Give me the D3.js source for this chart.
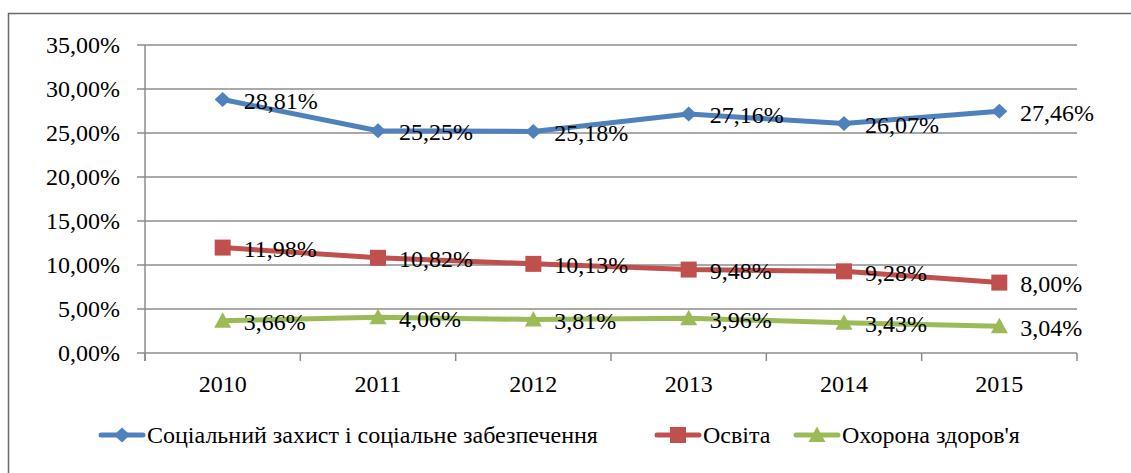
<!DOCTYPE html>
<html>
<head>
<meta charset="utf-8">
<script src="https://cdn.jsdelivr.net/npm/d3@7"></script>
<style>
  body { margin: 0; background: #fff; }
  text { font-family: "Liberation Serif", "Times New Roman", serif; fill: #000; }
</style>
</head>
<body>
<div id="viz-wrapper"></div>
<script>
  // chart data
  var years = ["2010", "2011", "2012", "2013", "2014", "2015"];
  var socialProtection = [28.81, 25.25, 25.18, 27.16, 26.07, 27.46];
  var education = [11.98, 10.82, 10.13, 9.48, 9.28, 8.00];
  var health = [3.66, 4.06, 3.81, 3.96, 3.43, 3.04];
  var yTicks = [0, 5, 10, 15, 20, 25, 30, 35];
  var seriesNames = ["Соціальний захист і соціальне забезпечення", "Освіта", "Охорона здоров'я"];

  var width = 1131, height = 473;
  var plotLeft = 145, plotRight = 1077, plotTop = 45, plotBottom = 353;
  var fontSize = "24px";

  // marker shapes, sized in px (half widths)
  var diamond = { draw: function(c) { c.moveTo(0, -7.5); c.lineTo(8, 0); c.lineTo(0, 7.5); c.lineTo(-8, 0); c.closePath(); } };
  var square = { draw: function(c) { c.rect(-8, -8, 16, 16); } };
  var triangle = { draw: function(c) { c.moveTo(0, -8.5); c.lineTo(8.5, 7); c.lineTo(-8.5, 7); c.closePath(); } };

  var series = [
    {name: seriesNames[0], values: socialProtection, color: "#4F81BD", shape: diamond},
    {name: seriesNames[1], values: education, color: "#C0504D", shape: square},
    {name: seriesNames[2], values: health, color: "#9BBB59", shape: triangle}
  ];

  var fmt = function(v) { return v.toFixed(2).replace(".", ",") + "%"; };

  var viz = d3.select("#viz-wrapper")
    .append("svg")
    .attr("width", width)
    .attr("height", height);

  // outer frame (cut off on the right and bottom like the source)
  viz.append("rect")
    .attr("x", 8.5).attr("y", 13.5)
    .attr("width", 1140).attr("height", 480)
    .attr("fill", "none")
    .attr("stroke", "#6a6a6a")
    .attr("stroke-width", 1.5);

  var x = d3.scaleBand().domain(years).range([plotLeft, plotRight]);
  var y = d3.scaleLinear().domain([0, 35]).range([plotBottom, plotTop]);

  // horizontal gridlines
  viz.append("g")
    .selectAll("line")
    .data(yTicks)
    .enter()
    .append("line")
    .attr("x1", plotLeft - 8).attr("x2", plotRight)
    .attr("y1", function(d) { return y(d); })
    .attr("y2", function(d) { return y(d); })
    .attr("stroke", "#8c8c8c")
    .attr("stroke-width", 1.5);

  // y axis line
  viz.append("line")
    .attr("x1", plotLeft).attr("x2", plotLeft)
    .attr("y1", plotTop).attr("y2", plotBottom + 8)
    .attr("stroke", "#8c8c8c").attr("stroke-width", 1.5);

  // x category ticks
  var bounds = years.map(function(d) { return x(d); }).concat([plotRight]);
  viz.append("g")
    .selectAll("line")
    .data(bounds)
    .enter()
    .append("line")
    .attr("x1", function(d) { return d; })
    .attr("x2", function(d) { return d; })
    .attr("y1", plotBottom).attr("y2", plotBottom + 8)
    .attr("stroke", "#8c8c8c").attr("stroke-width", 1.5);

  // y tick labels
  viz.append("g")
    .selectAll("text")
    .data(yTicks)
    .enter()
    .append("text")
    .attr("x", 120)
    .attr("y", function(d) { return y(d); })
    .attr("dy", "0.35em")
    .attr("text-anchor", "end")
    .style("font-size", fontSize)
    .text(function(d) { return d.toFixed(2).replace(".", ",") + "%"; });

  // x labels
  viz.append("g")
    .selectAll("text")
    .data(years)
    .enter()
    .append("text")
    .attr("x", function(d) { return x(d) + x.bandwidth() / 2; })
    .attr("y", 384)
    .attr("dy", "0.35em")
    .attr("text-anchor", "middle")
    .style("font-size", fontSize)
    .text(function(d) { return d; });

  var cx = function(i) { return x(years[i]) + x.bandwidth() / 2; };

  var line = d3.line()
    .x(function(d, i) { return cx(i); })
    .y(function(d) { return y(d); });

  // lines first, then markers, then labels on top
  var lineLayer = viz.append("g"), markLayer = viz.append("g"), labelLayer = viz.append("g");

  series.forEach(function(s) {
    lineLayer.append("path")
      .datum(s.values)
      .attr("d", line)
      .attr("fill", "none")
      .attr("stroke", s.color)
      .attr("stroke-width", 5)
      .attr("stroke-linejoin", "round");

    markLayer.append("g").selectAll("path")
      .data(s.values)
      .enter()
      .append("path")
      .attr("d", d3.symbol().type(s.shape))
      .attr("transform", function(d, i) { return "translate(" + cx(i) + "," + y(d) + ")"; })
      .attr("fill", s.color);

    labelLayer.append("g").selectAll("text")
      .data(s.values)
      .enter()
      .append("text")
      .attr("x", function(d, i) { return cx(i) + 21; })
      .attr("y", function(d) { return y(d) + 1; })
      .attr("dy", "0.35em")
      .style("font-size", fontSize)
      .text(fmt)
      .each(function() {
        // keep labels inside the chart area on the right
        var t = d3.select(this);
        var w = this.getComputedTextLength();
        var x0 = +t.attr("x");
        if (x0 + w > 1094) t.attr("x", 1094 - w);
      });
  });

  // legend
  var legendX = [99, 655, 794];
  series.forEach(function(s, i) {
    var g = viz.append("g").attr("transform", "translate(" + legendX[i] + ",435)");
    g.append("line")
      .attr("x1", 2).attr("x2", 44)
      .attr("stroke", s.color).attr("stroke-width", 5)
      .attr("stroke-linecap", "round");
    g.append("path")
      .attr("d", d3.symbol().type(s.shape))
      .attr("transform", "translate(23,0)")
      .attr("fill", s.color);
    g.append("text")
      .attr("x", 48)
      .attr("dy", "0.35em")
      .style("font-size", fontSize)
      .text(s.name);
  });
</script>
</body>
</html>
